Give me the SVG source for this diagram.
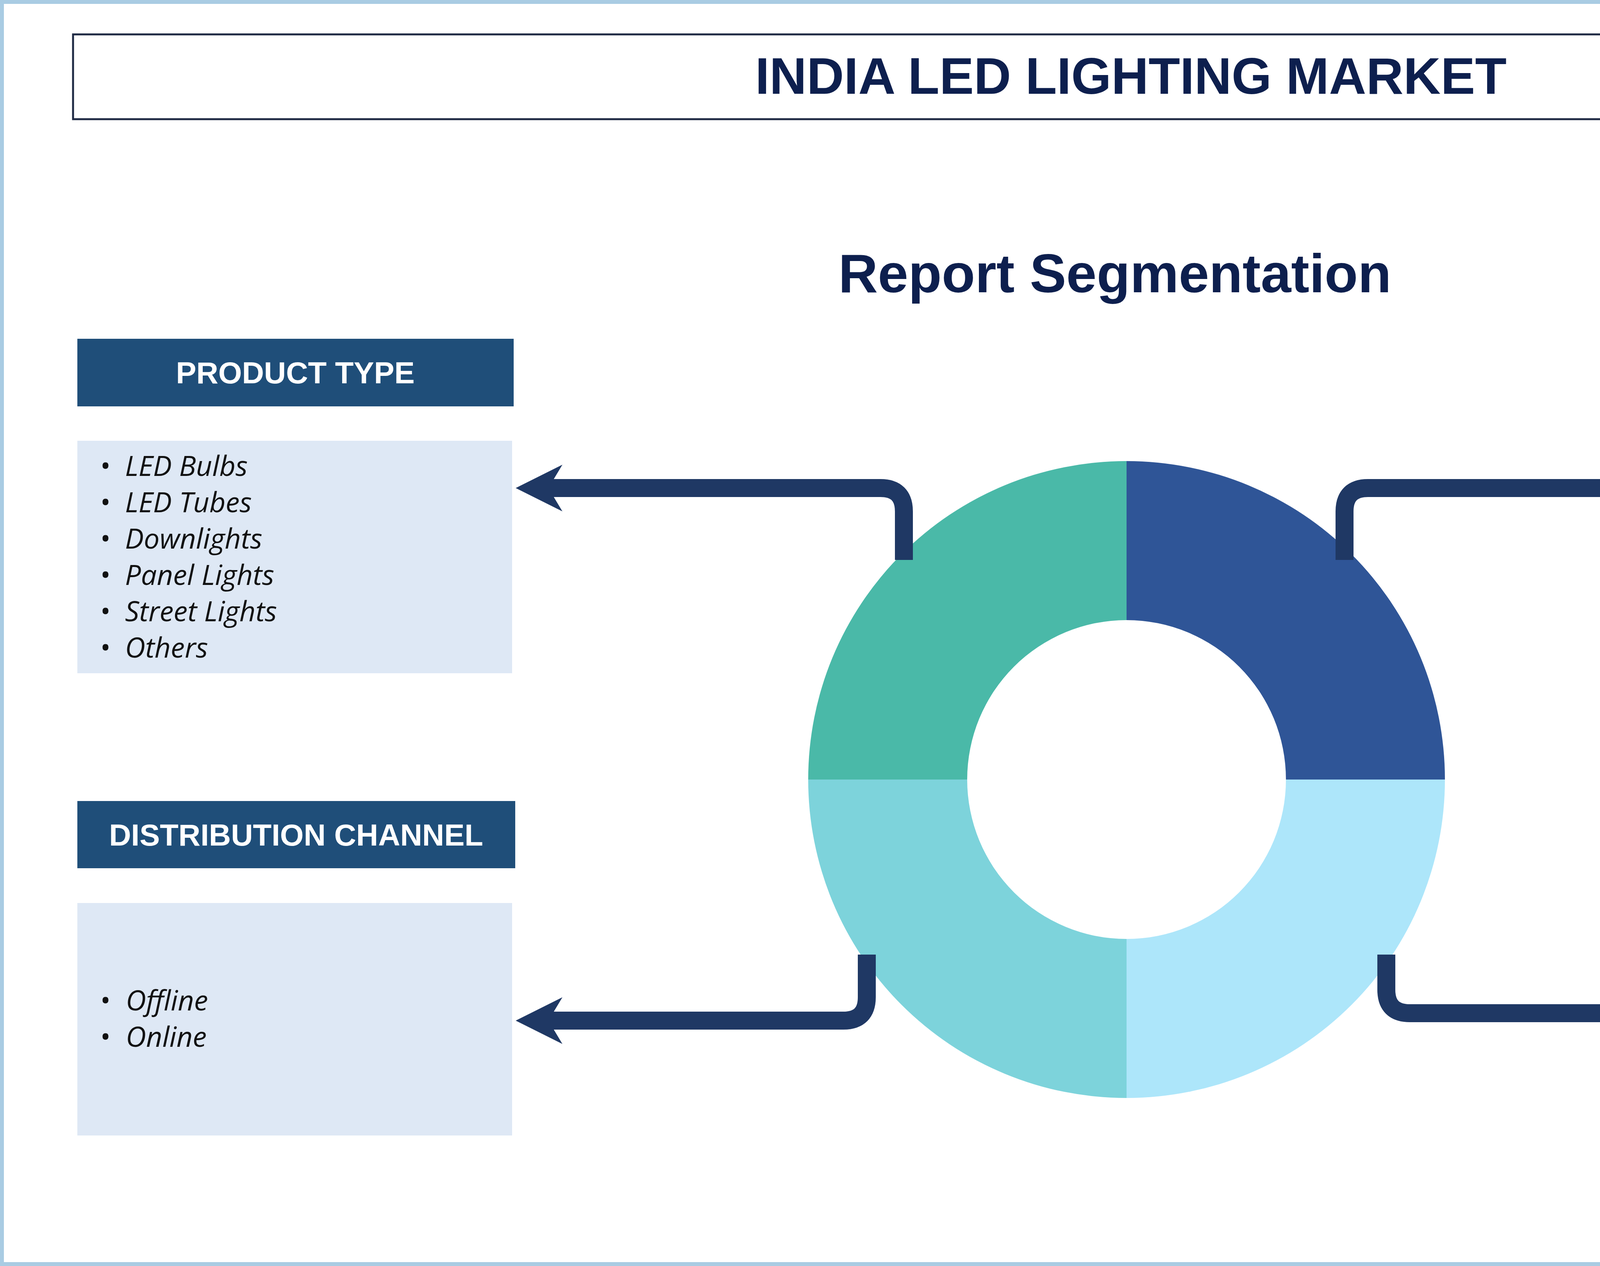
<svg xmlns="http://www.w3.org/2000/svg" width="5760" height="3240" viewBox="0 0 5760 3240">
<defs>
<style>
.hdr{fill:#1F4E79}
.ht{font-family:"Liberation Sans",Arial,sans-serif;font-weight:bold;font-size:78px;fill:#fff;text-anchor:middle}
.lst{fill:#DEE8F5}
.it{font-family:"Open Sans","Liberation Sans",sans-serif;font-style:italic;font-size:72px;fill:#111}
.con{fill:none;stroke:#1F3864;stroke-width:46;stroke-linejoin:round}
</style>
<marker id="ah" viewBox="0 0 10 10" refX="5" refY="5" markerWidth="2.6" markerHeight="2.6" orient="auto" markerUnits="strokeWidth"><path d="M0,0 L10,5 L0,10 L3,5 Z" fill="#1F3864"/></marker>
</defs>
<rect x="0" y="0" width="5760" height="3240" fill="#fff"/>
<rect x="5" y="5" width="5750" height="3230" fill="none" stroke="#A9CCE3" stroke-width="10"/>
<g id="title"><rect x="187" y="88" width="5415" height="217" fill="#fff" stroke="#1F2A44" stroke-width="5"/>
<text x="2895" y="240" text-anchor="middle" font-family="Liberation Sans,Arial,sans-serif" font-weight="bold" font-size="132" fill="#0D1F4E">INDIA LED LIGHTING MARKET</text></g>
<g id="subtitle"><text x="2854" y="748" text-anchor="middle" font-family="Liberation Sans,Arial,sans-serif" font-weight="bold" font-size="140" fill="#0D1F4E">Report Segmentation</text></g>
<g id="donut">
<path d="M2884 1180 A815 815 0 0 1 3699 1995 L3292 1995 A408 408 0 0 0 2884 1587 Z" fill="#2F5597"/>
<path d="M2884 1180 A815 815 0 0 0 2069 1995 L2476 1995 A408 408 0 0 1 2884 1587 Z" fill="#4AB9A8"/>
<path d="M2069 1995 A815 815 0 0 0 2884 2810 L2884 2403 A408 408 0 0 1 2476 1995 Z" fill="#7DD3DB"/>
<path d="M3699 1995 A815 815 0 0 1 2884 2810 L2884 2403 A408 408 0 0 0 3292 1995 Z" fill="#ADE6FA"/>
</g>
<g id="connectors">
<path class="con" d="M2314 1433 V1309 Q2314 1249 2254 1249 H1380" marker-end="url(#ah)"/>
<path class="con" d="M3442 1433 V1309 Q3442 1249 3502 1249 H4380" marker-end="url(#ah)"/>
<path class="con" d="M2219 2443 V2552 Q2219 2612 2159 2612 H1380" marker-end="url(#ah)"/>
<path class="con" d="M3549 2443 V2533 Q3549 2593 3609 2593 H4385" marker-end="url(#ah)"/>
</g>
<g id="product-type">
<rect class="hdr" x="198" y="867" width="1117" height="173"/><text class="ht" x="756" y="981">PRODUCT TYPE</text>
<rect class="lst" x="198" y="1128" width="1113" height="595"/>
<g class="it"><text x="255" y="1218">•</text><text x="320" y="1218">LED Bulbs</text>
<text x="255" y="1311">•</text><text x="320" y="1311">LED Tubes</text>
<text x="255" y="1404">•</text><text x="320" y="1404">Downlights</text>
<text x="255" y="1497">•</text><text x="320" y="1497">Panel Lights</text>
<text x="255" y="1590">•</text><text x="320" y="1590">Street Lights</text>
<text x="255" y="1683">•</text><text x="320" y="1683">Others</text></g>
</g>
<g id="application">
<rect class="hdr" x="4441" y="867" width="1128" height="173"/><text class="ht" x="5005" y="981">APPLICATION</text>
<rect class="lst" x="4445" y="1128" width="1124" height="595"/>
<g class="it"><text x="4500" y="1262">•</text><text x="4570" y="1262">Residential</text>
<text x="4500" y="1355">•</text><text x="4570" y="1355">Commercial</text>
<text x="4500" y="1448">•</text><text x="4570" y="1448">Industrial</text>
<text x="4500" y="1541">•</text><text x="4570" y="1541">Outdoor/Public</text>
<text x="4570" y="1634">Infrastructure</text></g>
</g>
<g id="distribution-channel">
<rect class="hdr" x="198" y="2050" width="1121" height="172"/><text class="ht" x="758" y="2164">DISTRIBUTION CHANNEL</text>
<rect class="lst" x="198" y="2311" width="1113" height="595"/>
<g class="it"><text x="255" y="2586">•</text><text x="322" y="2586">Offline</text>
<text x="255" y="2679">•</text><text x="322" y="2679">Online</text></g>
</g>
<g id="region">
<rect class="hdr" x="4441" y="2050" width="1128" height="172"/><text class="ht" x="5005" y="2164">REGION</text>
<rect class="lst" x="4445" y="2311" width="1124" height="595"/>
<g class="it"><text x="4500" y="2494">•</text><text x="4566" y="2494">North India</text>
<text x="4500" y="2587">•</text><text x="4566" y="2587">East India</text>
<text x="4500" y="2680">•</text><text x="4566" y="2680">South India</text>
<text x="4500" y="2773">•</text><text x="4566" y="2773">West India</text></g>
</g>
</svg>
